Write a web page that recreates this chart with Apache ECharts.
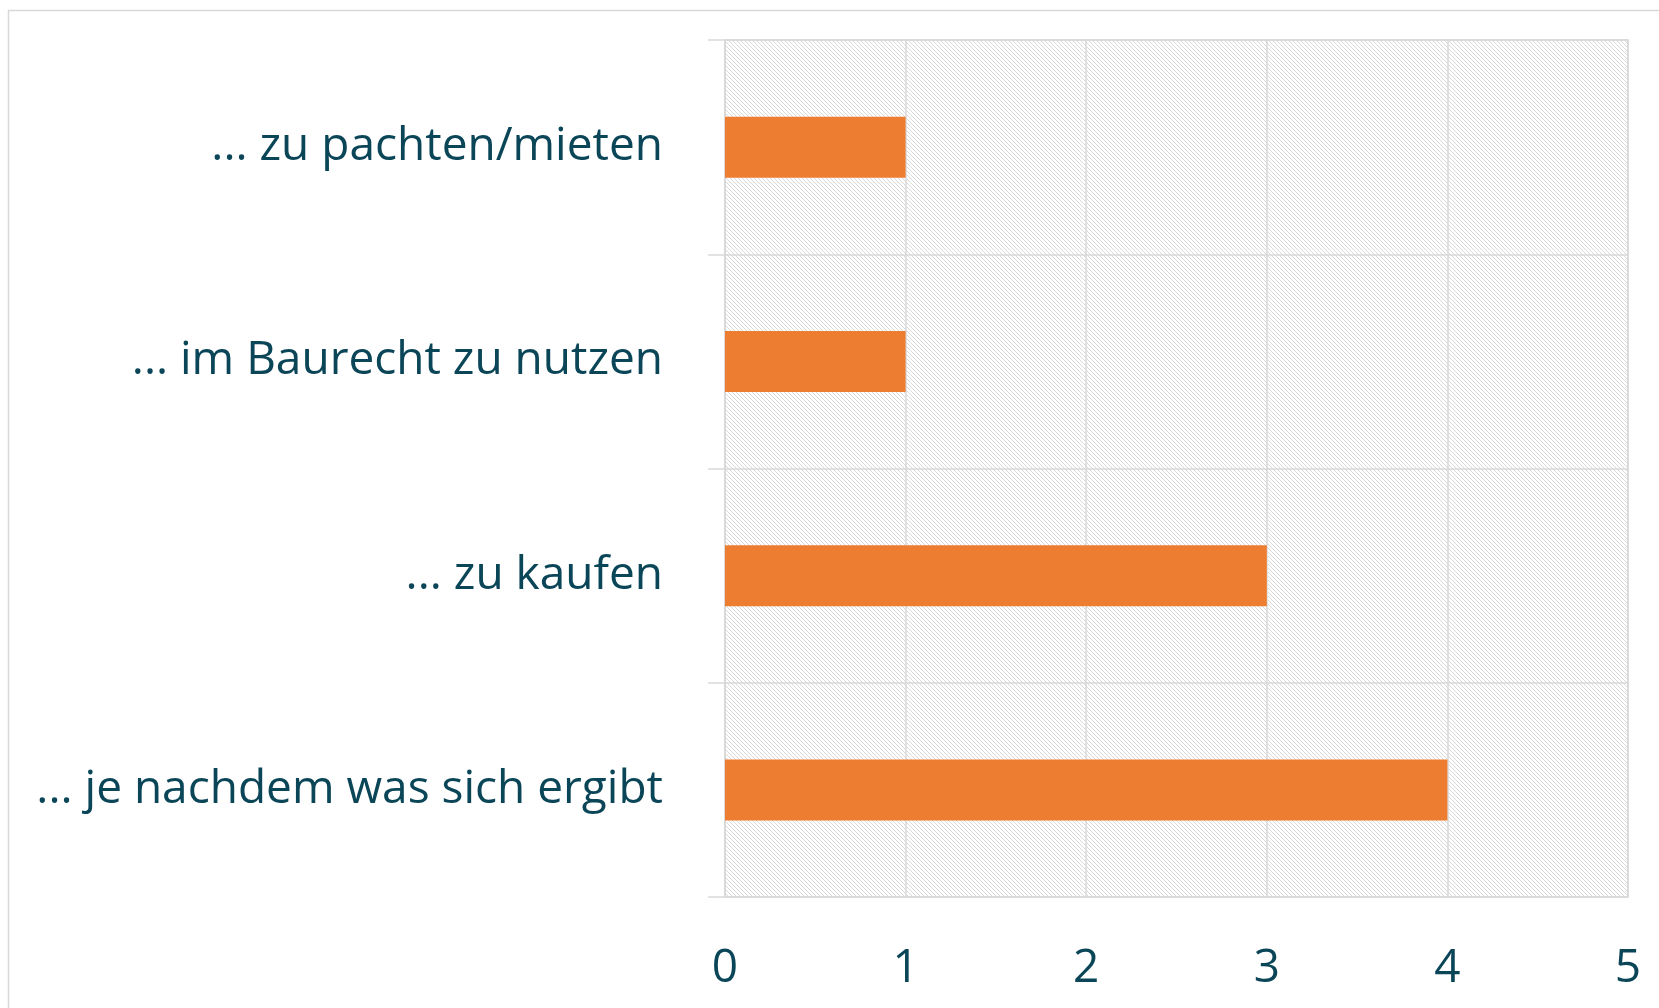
<!DOCTYPE html>
<html>
<head>
<meta charset="utf-8">
<script src="https://cdn.jsdelivr.net/npm/echarts@6/dist/echarts.min.js"></script>
<style>
  html, body { margin: 0; padding: 0; background: #fff; }
  #chart { width: 1659px; height: 1008px; }
</style>
</head>
<body>
<div id="chart"></div>
<script>
// Antworten (von oben nach unten) und Anzahl Nennungen
var categories = ['... zu pachten/mieten', '... im Baurecht zu nutzen', '... zu kaufen', '... je nachdem was sich ergibt']
var counts = [1, 1, 3, 4]
var xTicks = [0, 1, 2, 3, 4, 5]

var textColor = '#0b4658'
var lineColor = '#d9d9d9'

// schraffierter Hintergrund wie im Excel-Diagramm
function hatch() {
  var c = document.createElement('canvas')
  c.width = 4
  c.height = 4
  var ctx = c.getContext('2d')
  ctx.fillStyle = '#ffffff'
  ctx.fillRect(0, 0, 4, 4)
  ctx.fillStyle = '#d9d9d9'
  for (var i = 0; i < 4; i++) ctx.fillRect(i, i, 1, 1)
  return c
}

var chart = echarts.init(document.getElementById('chart'))

chart.setOption({
  animation: false,
  graphic: [{
    type: 'rect',
    shape: { x: 8.5, y: 10.5, width: 1700, height: 1100 },
    style: { fill: 'none', stroke: lineColor, lineWidth: 1.5 },
    silent: true
  }],
  grid: {
    left: 725, top: 40, right: 31, bottom: 111,
    show: true,
    backgroundColor: { image: hatch(), repeat: 'repeat' },
    borderColor: lineColor,
    borderWidth: 1.5
  },
  xAxis: {
    type: 'value',
    min: xTicks[0],
    max: xTicks[xTicks.length - 1],
    interval: 1,
    axisLine: { show: false },
    axisTick: { show: false },
    splitLine: { lineStyle: { color: lineColor, width: 1.5 } },
    axisLabel: {
      color: textColor,
      fontFamily: 'Open Sans',
      fontSize: 46,
      margin: 49
    }
  },
  yAxis: {
    type: 'category',
    inverse: true,
    data: categories,
    axisLine: { show: true, lineStyle: { color: lineColor, width: 1.5 } },
    axisTick: { show: true, length: 17, lineStyle: { color: lineColor, width: 1.5 } },
    splitLine: { show: true, lineStyle: { color: lineColor, width: 1.5 } },
    axisLabel: {
      color: textColor,
      fontFamily: 'Open Sans',
      fontSize: 46,
      margin: 62,
      padding: [4, 0, 0, 0]
    }
  },
  series: [{
    type: 'bar',
    data: counts,
    barWidth: 61,
    itemStyle: { color: '#ED7D31' }
  }]
})
</script>
</body>
</html>
